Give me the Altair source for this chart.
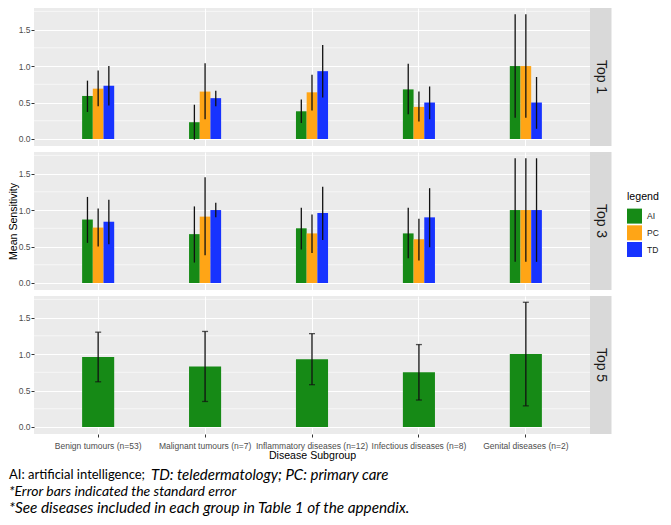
import altair as alt
import pandas as pd

categories = ["Benign tumours (n=53)", "Malignant tumours (n=7)",
              "Inflammatory diseases (n=12)", "Infectious diseases (n=8)",
              "Genital diseases (n=2)"]
series = ["AI", "PC", "TD"]
series_colors = ["#168A16", "#FFA516", "#1733FF"]
panel_names = ["Top 1", "Top 3", "Top 5"]
major_breaks = [0.0, 0.5, 1.0, 1.5]
minor_breaks = [0.25, 0.75, 1.25, 1.75]

# Top 1
top1_ai = [0.59, 0.23, 0.38, 0.68, 1.00]
top1_ai_lo = [0.37, -0.01, 0.22, 0.34, 0.29]
top1_ai_hi = [0.80, 0.47, 0.54, 1.03, 1.71]
top1_pc = [0.69, 0.65, 0.64, 0.44, 1.00]
top1_pc_lo = [0.45, 0.27, 0.39, 0.24, 0.29]
top1_pc_hi = [0.94, 1.04, 0.88, 0.65, 1.71]
top1_td = [0.73, 0.56, 0.93, 0.50, 0.50]
top1_td_lo = [0.46, 0.45, 0.57, 0.27, 0.14]
top1_td_hi = [1.00, 0.66, 1.29, 0.72, 0.85]

# Top 3
top3_ai = [0.87, 0.67, 0.75, 0.68, 1.00]
top3_ai_lo = [0.55, 0.28, 0.46, 0.34, 0.29]
top3_ai_hi = [1.18, 1.05, 1.03, 1.03, 1.71]
top3_pc = [0.76, 0.91, 0.68, 0.60, 1.00]
top3_pc_lo = [0.50, 0.38, 0.41, 0.31, 0.29]
top3_pc_hi = [1.02, 1.45, 0.94, 0.88, 1.71]
top3_td = [0.84, 1.00, 0.96, 0.90, 1.00]
top3_td_lo = [0.53, 0.90, 0.59, 0.49, 0.29]
top3_td_hi = [1.14, 1.10, 1.32, 1.30, 1.71]

# Top 5 (AI only)
top5_ai = [0.96, 0.83, 0.93, 0.75, 1.00]
top5_ai_lo = [0.62, 0.35, 0.58, 0.37, 0.29]
top5_ai_hi = [1.30, 1.31, 1.28, 1.13, 1.71]

caption_line1_regular = "AI: artificial intelligence; "
caption_line1_italic = "TD: teledermatology; PC: primary care"
caption_line2 = "*Error bars indicated the standard error"
caption_line3 = "*See diseases included in each group in Table 1 of the appendix."


def make_df(spec):
    rows = []
    for ser, mean, lo, hi in spec:
        for c, m, l, h in zip(categories, mean, lo, hi):
            rows.append({"cat": c, "series": ser, "mean": m, "lo": l, "hi": h})
    return pd.DataFrame(rows)


df1 = make_df([("AI", top1_ai, top1_ai_lo, top1_ai_hi),
               ("PC", top1_pc, top1_pc_lo, top1_pc_hi),
               ("TD", top1_td, top1_td_lo, top1_td_hi)])
df3 = make_df([("AI", top3_ai, top3_ai_lo, top3_ai_hi),
               ("PC", top3_pc, top3_pc_lo, top3_pc_hi),
               ("TD", top3_td, top3_td_lo, top3_td_hi)])
df5 = make_df([("AI", top5_ai, top5_ai_lo, top5_ai_hi)])

all_df = pd.concat([df1, df3, df5])
ymin = min(0.0, all_df["lo"].min())
ymax = all_df["hi"].max()
pad = 0.05 * (ymax - ymin)
ydom = [ymin - pad, ymax + pad]

W = 556
H = 138
STRIP = 21.5
FONT = "Liberation Sans"
STEP = W / (len(categories) + 0.2)
DODGE = 0.3

xscale = alt.Scale(domain=categories, paddingOuter=0.1, paddingInner=0)
yscale = alt.Scale(domain=ydom, nice=False, zero=False)
cscale = alt.Scale(domain=series, range=series_colors)
offscale = alt.Scale(domain=series, paddingOuter=0, paddingInner=0,
                     range=[STEP * (0.5 - DODGE / 2), STEP * (0.5 + DODGE / 2)])
minor_df = pd.DataFrame({"v": minor_breaks})


def panel(name, df, dodge, bottom, middle):
    if bottom:
        xaxis = alt.Axis(title="Disease Subgroup", labelAngle=0, labelFontSize=8.5,
                         labelColor="#4D4D4D", tickColor="#333333", tickSize=3,
                         labelPadding=4, titleFontSize=10.6, titleColor="black",
                         titleFontWeight="normal", titlePadding=1, domain=False,
                         grid=True, gridColor="white", gridWidth=1.1,
                         labelFont=FONT, titleFont=FONT)
    else:
        xaxis = alt.Axis(title=None, labels=False, ticks=False, domain=False,
                         grid=True, gridColor="white", gridWidth=1.1)
    yaxis = alt.Axis(values=major_breaks, format=".1f", title="Mean Sensitivity",
                     titleOpacity=1 if middle else 0, titleFontSize=10.6,
                     titleColor="black", titleFontWeight="normal", titlePadding=0,
                     labelFontSize=8.5, labelColor="#4D4D4D", tickColor="#333333",
                     tickSize=3, labelPadding=1, domain=False, grid=True,
                     gridColor="white", gridWidth=1.1, labelFont=FONT, titleFont=FONT)

    minor = alt.Chart(minor_df).mark_rule(color="white", strokeWidth=0.6).encode(
        y=alt.Y("v:Q", scale=yscale, axis=yaxis))

    x_enc = alt.X("cat:N", sort=categories, scale=xscale, axis=xaxis)
    if middle:
        legend = alt.Legend(title="legend", orient="none", legendX=593, legendY=40,
                            symbolType="square", symbolSize=225, symbolStrokeWidth=0,
                            symbolOpacity=1, labelFontSize=8.5, titleFontSize=10.6,
                            titleColor="black", labelColor="#1A1A1A",
                            titleFontWeight="normal", rowPadding=1.7, titlePadding=6,
                            labelOffset=5, labelFont=FONT, titleFont=FONT)
    else:
        legend = None
    c_enc = alt.Color("series:N", scale=cscale, legend=legend)

    if dodge:
        off = alt.XOffset("series:N", sort=series, scale=offscale)
        bars = alt.Chart(df).mark_bar(opacity=1).encode(
            x=x_enc, xOffset=off,
            y=alt.Y("mean:Q", scale=yscale, axis=yaxis), color=c_enc)
        err = alt.Chart(df).mark_rule(color="#111111", strokeWidth=1.3).encode(
            x=x_enc, xOffset=off,
            y=alt.Y("lo:Q", scale=yscale, axis=yaxis), y2="hi:Q")
        layers = [minor, bars, err]
    else:
        bars = alt.Chart(df).mark_bar(width={"band": DODGE}, opacity=1).encode(
            x=x_enc, y=alt.Y("mean:Q", scale=yscale, axis=yaxis), color=c_enc)
        err = alt.Chart(df).mark_rule(color="#111111", strokeWidth=1.3).encode(
            x=x_enc, y=alt.Y("lo:Q", scale=yscale, axis=yaxis), y2="hi:Q")
        cap_lo = alt.Chart(df).mark_tick(color="#111111", thickness=1.3, size=6).encode(
            x=x_enc, y=alt.Y("lo:Q", scale=yscale, axis=yaxis))
        cap_hi = alt.Chart(df).mark_tick(color="#111111", thickness=1.3, size=6).encode(
            x=x_enc, y=alt.Y("hi:Q", scale=yscale, axis=yaxis))
        layers = [minor, bars, err, cap_lo, cap_hi]

    strip_df = pd.DataFrame({"label": [name]})
    strip = alt.Chart(strip_df).mark_rect(color="#D9D9D9").encode(
        x=alt.value(W), x2=alt.value(W + STRIP), y=alt.value(0), y2=alt.value(H))
    strip_txt = alt.Chart(strip_df).mark_text(angle=90, fontSize=14, color="#1A1A1A",
                                              font=FONT).encode(
        x=alt.value(W + STRIP / 2), y=alt.value(H / 2), text="label:N")
    layers += [strip, strip_txt]

    if bottom:
        def cap(txt, xpos, ypos, style, size):
            return alt.Chart(pd.DataFrame({"t": [txt]})).mark_text(
                align="left", baseline="middle", font="Lato", fontSize=size,
                fontStyle=style, color="black").encode(
                x=alt.value(xpos), y=alt.value(ypos), text="t:N")
        layers += [cap(caption_line1_regular, -25, 179, "normal", 13.0),
                   cap(caption_line1_italic, 117, 179, "italic", 15.0),
                   cap(caption_line2, -25, 196, "italic", 14.0),
                   cap(caption_line3, -25, 212, "italic", 15.3)]

    return alt.layer(*layers).properties(width=W, height=H)


p1 = panel(panel_names[0], df1, True, False, False)
p3 = panel(panel_names[1], df3, True, False, True)
p5 = panel(panel_names[2], df5, False, True, False)

chart = (alt.vconcat(p1, p3, p5, spacing=6)
         .resolve_legend(color="independent")
         .properties(padding=0)
         .configure(font=FONT)
         .configure_view(stroke=None, fill="#EBEBEB"))

chart.save("out.html", embed_options={"renderer": "svg", "actions": False})
